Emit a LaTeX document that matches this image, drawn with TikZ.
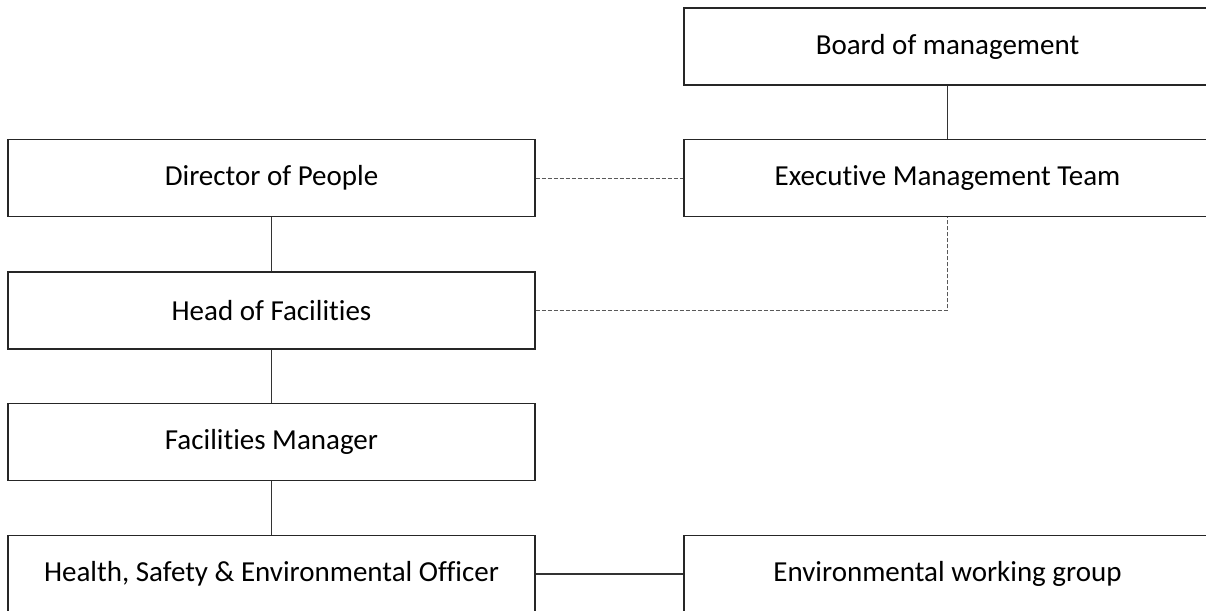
\documentclass[tikz,border=0pt]{standalone}
\usepackage{fontspec}
\setmainfont{Carlito}[Ligatures=NoCommon]
\begin{document}
\begin{tikzpicture}[x=1pt,y=-1pt,
  orgbox/.style={draw=black!85, line width=1.2pt, fill=white, minimum width=527pt, minimum height=77pt, inner sep=0pt, font=\fontsize{29}{34}\selectfont, text=black},
  solidlink/.style={draw=black!80, line width=1.1pt},
  dashlink/.style={draw=black!65, line width=0.9pt, dash pattern=on 4pt off 2pt}]
\useasboundingbox (0,0) rectangle (1206,610);
\clip (0,0) rectangle (1206,610);
\node[orgbox] (board) at (947.5,46.5) {Board of management};
\node[orgbox] (emt) at (947.5,178) {Executive Management Team};
\node[orgbox] (env) at (947.5,574) {Environmental working group};
\node[orgbox] (dp) at (271.5,178) {Director of People};
\node[orgbox] (hf) at (271.5,310.5) {Head of Facilities};
\node[orgbox] (fm) at (271.5,442) {Facilities Manager};
\node[orgbox] (hse) at (271.5,574) {Health, Safety \& Environmental Officer};
\draw[solidlink] (board.south) -- (emt.north);
\draw[solidlink] (dp.south) -- (hf.north);
\draw[solidlink] (hf.south) -- (fm.north);
\draw[solidlink] (fm.south) -- (hse.north);
\draw[solidlink] (hse.east) -- (env.west);
\draw[dashlink] (dp.east) -- (emt.west);
\draw[dashlink] (hf.east) -- (emt.south |- hf.east) -- (emt.south);
\end{tikzpicture}
\end{document}
